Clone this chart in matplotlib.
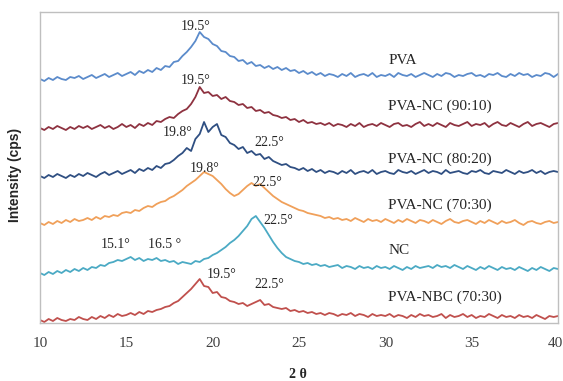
import numpy as np
import matplotlib
matplotlib.use("Agg")
import matplotlib.pyplot as plt
from matplotlib.transforms import ScaledTranslation

# --- XRD patterns (intensity in arbitrary stacked units) ---
# sampled every 0.25 deg from 10 to 40
pva = [244,242,245,243,246,244,243,246,245,247,
       244,246,248,245,247,249,246,248,250,247,
       249,251,248,252,250,253,251,255,253,257,
       256,261,262,267,271,276,282,291,286,284,
       279,277,272,271,267,266,262,263,259,261,
       257,258,255,257,254,256,253,255,252,253,
       250,252,249,251,248,250,247,249,248,246,
       249,247,250,246,248,249,247,250,246,248,
       247,249,246,250,248,247,249,246,248,250,
       248,246,249,247,250,249,246,248,247,249,
       250,247,248,246,249,248,250,247,246,249,
       247,250,248,249,246,248,247,250,249,246,
       249]
pva_nc_90 = [195,193,196,194,197,195,193,196,194,197,
             195,197,194,196,198,195,197,194,196,199,
             196,198,195,199,197,200,198,202,201,204,
             206,205,209,212,214,219,226,236,230,231,
             227,228,224,226,222,221,218,219,215,216,
             212,213,210,211,208,207,205,206,203,204,
             201,203,200,201,199,200,198,200,197,199,
             198,196,199,197,200,196,198,199,197,200,
             198,196,199,200,197,198,196,199,201,197,
             199,197,200,198,196,200,198,197,199,201,
             197,199,198,200,196,199,201,198,197,200,
             198,196,199,201,197,199,200,198,196,199,
             200]
pva_nc_80 = [147,145,148,146,149,147,145,148,146,149,
             147,150,148,146,149,151,148,150,152,149,
             151,153,150,154,152,155,153,157,155,159,
             160,163,167,170,175,172,184,189,201,191,
             196,199,188,186,180,178,174,176,170,172,
             168,169,164,166,162,160,158,159,156,155,
             153,155,152,154,151,153,150,152,151,149,
             152,150,153,149,151,152,150,153,149,151,
             152,150,149,153,151,150,152,149,151,153,
             150,152,151,149,153,150,151,152,150,149,
             152,151,153,150,149,152,151,150,153,151,
             149,152,150,151,153,150,152,149,151,152,
             151]
pva_nc_70 = [100,98,101,99,102,100,103,101,104,102,
             103,105,103,106,104,107,106,108,107,110,
             111,110,113,112,115,117,116,119,121,122,
             125,127,130,133,137,140,143,147,151,149,
             147,143,139,134,130,127,129,133,137,140,
             137,139,135,131,127,124,121,119,117,115,
             113,112,110,109,108,107,105,106,104,105,
             103,104,102,105,103,101,104,102,103,101,
             104,102,100,103,101,104,102,100,103,102,
             100,103,101,99,102,104,101,100,102,103,
             101,99,102,100,103,101,99,102,100,101,
             103,100,98,101,102,100,99,101,102,100,
             101]
nc = [50,48,51,49,52,50,53,51,54,52,
      55,53,56,55,58,57,60,61,63,62,
      64,66,63,65,62,64,63,65,62,63,
      61,62,59,61,60,59,62,61,64,65,
      68,70,73,76,80,83,87,92,97,104,
      107,101,95,88,81,75,70,66,64,62,
      61,59,60,58,59,57,58,56,57,58,
      55,57,56,54,57,55,56,54,57,55,
      56,54,57,55,53,56,54,57,55,56,
      57,55,58,56,57,55,58,56,54,57,
      55,53,56,54,57,55,53,56,54,55,
      53,56,54,52,55,53,56,54,52,55,
      54]
pva_nbc_70 = [3,1,4,2,5,3,2,4,3,6,
              4,3,6,4,7,5,8,6,9,7,
              8,10,8,11,9,12,11,13,14,16,
              17,20,22,26,30,34,39,44,37,36,
              30,31,26,25,22,21,19,20,17,19,
              21,23,18,19,16,15,14,15,12,13,
              11,12,10,11,9,10,8,10,9,7,
              9,8,10,7,9,8,6,9,7,8,
              7,9,6,8,7,5,8,6,9,7,
              8,6,7,9,5,8,6,7,9,6,
              8,5,7,6,9,7,5,8,6,7,
              5,8,6,7,5,8,6,4,7,6,
              7]

series = [pva, pva_nc_90, pva_nc_80, pva_nc_70, nc, pva_nbc_70]
names = ["PVA", "PVA-NC (90:10)", "PVA-NC (80:20)", "PVA-NC (70:30)",
         "NC", "PVA-NBC (70:30)"]
colors = ["#5B8BCB", "#8E3240", "#2F4F82", "#F0A05A", "#4BAAC4", "#C0504D"]
name_y = [263, 217, 164, 118, 72, 26]

# peak annotations: (text, 2theta, height)
peaks = [("19.5°", 19.0, 297), ("19.5°", 19.0, 243),
         ("19.8°", 17.97, 191), ("22.5°", 23.3, 180),
         ("19.8°", 19.53, 155), ("22.5°", 23.14, 141),
         ("22.5°", 23.78, 102), ("15.1°", 14.36, 78), ("16.5 °", 17.21, 79),
         ("19.5°", 20.52, 48), ("22.5°", 23.3, 38)]

serif = "Liberation Serif"

fig = plt.figure(figsize=(5.63, 3.81), dpi=100)
ax = fig.add_axes([40 / 563, 58 / 381, 518 / 563, 311 / 381])

for vals, c in zip(series, colors):
    x = np.linspace(10, 40, len(vals))
    ax.plot(x, vals, color=c, lw=1.3)

for name, y in zip(names, name_y):
    ax.text(30.17, y, name, fontsize=11, family=serif, color="#262626",
            ha="left", va="center")

for txt, x, y in peaks:
    ax.text(x, y, txt, fontsize=10, family=serif, color="#262626",
            ha="center", va="center")

ax.set_xlim(10, 40)
ax.set_ylim(0, 311)
ax.set_xticks(np.arange(10, 41, 5))
ax.set_yticks([])
ax.tick_params(axis="x", length=0, pad=10, labelsize=11, labelcolor="#404040")
for lab in ax.get_xticklabels():
    lab.set_family(serif)
# last label sits on the figure edge; nudge it in a little
last = ax.get_xticklabels()[-1]
last.set_transform(last.get_transform() + ScaledTranslation(-3 / 100, 0, fig.dpi_scale_trans))
for s in ax.spines.values():
    s.set_color("#BFBFBF")
    s.set_linewidth(1.0)

fig.text(298 / 563, 1 - 374 / 381, "2 θ", fontsize=10, family=serif,
         fontweight="bold", ha="center", va="center", color="#262626")
fig.text(15 / 563, 1 - 175 / 381, "Intensity (cps)", fontsize=10,
         family="Liberation Sans", fontweight="bold",
         rotation=90, ha="center", va="center", color="#262626")

fig.savefig("out.png", dpi=100)
